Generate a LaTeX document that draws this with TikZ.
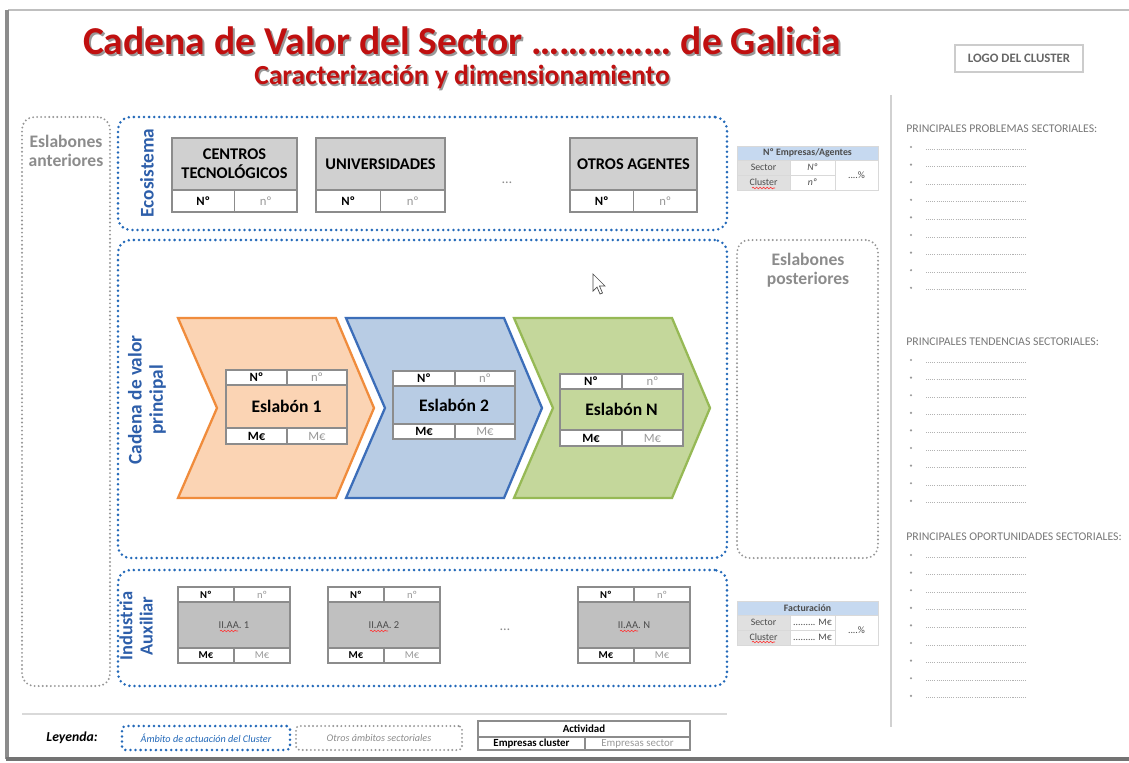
\documentclass[tikz,border=0pt]{standalone}
\usepackage{fontspec}
\setmainfont{Carlito}
\usetikzlibrary{fit,decorations.pathmorphing}
\definecolor{titlered}{RGB}{192,16,16}
\definecolor{cblue}{RGB}{35,105,185}
\definecolor{lblue}{RGB}{46,95,170}
\definecolor{dotgray}{RGB}{150,150,150}
\definecolor{hdrgray}{RGB}{208,208,208}
\definecolor{iagray}{RGB}{192,192,192}
\definecolor{bordgray}{RGB}{140,140,140}
\definecolor{hdrblue}{RGB}{198,217,240}
\definecolor{cellgray}{RGB}{224,224,224}
\definecolor{orangeS}{RGB}{240,140,60}
\definecolor{orangeF}{RGB}{251,212,180}
\definecolor{blueS}{RGB}{60,110,185}
\definecolor{blueF}{RGB}{184,204,228}
\definecolor{greenS}{RGB}{150,185,85}
\definecolor{greenF}{RGB}{196,215,155}
\definecolor{txtgray}{RGB}{120,120,120}
\newcommand\fsz[2]{\fontsize{#1}{#2}\selectfont}
% box: name, fit points, box style, text style, text
\newcommand\bx[5]{\node[fit={#2}, #3] (#1) {}; \node[inner sep=0pt, #4] (#1t) at (#1.center) {#5};}
\begin{document}
\begin{tikzpicture}[x=0.02cm,y=-0.02cm,
  bluedot/.style={draw=cblue, line width=1.6pt, dash pattern=on 0pt off 2.9pt, line cap=round, rounded corners=7pt, inner sep=0pt},
  graydot/.style={draw=dotgray, line width=1.2pt, dash pattern=on 0pt off 2.3pt, line cap=round, rounded corners=7pt, inner sep=0pt},
  cellbox/.style={draw=bordgray, line width=0.6pt, inner sep=0pt, fill=white},
  tcell/.style={draw=black!15, line width=0.5pt, inner sep=0pt},
  ttxt/.style={font=\fsz{5.6}{6.5}, text=black!70},
  bluelabel/.style={text=lblue, font=\bfseries\fsz{11}{12}, align=center},
  graylabel/.style={text=black!45, font=\bfseries\fsz{10}{11}, align=center},
  chev/.style={line width=1.3pt, line join=miter},
  heading/.style={anchor=west, text=txtgray, font=\fsz{6.7}{8}, inner sep=0pt},
  squig/.style={draw=red!80, line width=0.35pt, decorate, decoration={snake, amplitude=0.45pt, segment length=2pt}},
  sep/.style={draw=black!18, line width=1.2pt}
]
\useasboundingbox (0,0) rectangle (1129,762);
\fill[white] (0,0) rectangle (1129,762);
% page frame
\draw[black!25, line width=0.6pt] (8,10) -- (1129,10);
\draw[black!45, line width=1.8pt] (7,10) -- (7,759);
\draw[black!55, line width=2pt] (6,759) -- (1129,759);
\draw[sep] (891,95) -- (891,727);
\draw[black!15, line width=0.8pt] (22,714) -- (727,714);

% title
\node[text=black!40, font=\bfseries\fsz{22.5}{27}] (titleshadow) at (464,42.5) {Cadena de Valor del Sector …………… de Galicia};
\node[text=titlered, font=\bfseries\fsz{22.5}{27}] (title) at (462,40.5) {Cadena de Valor del Sector …………… de Galicia};
\node[text=black!40, font=\bfseries\fsz{15.7}{18}] (subshadow) at (463.5,78.5) {Caracterización y dimensionamiento};
\node[text=titlered, font=\bfseries\fsz{15.7}{18}] (subtitle) at (462,77) {Caracterización y dimensionamiento};

% logo
\bx{logo}{(955,45)(1083,72)}{draw=black!20, line width=0.6pt, inner sep=0pt}{text=black!60, font=\bfseries\fsz{7.3}{9}}{LOGO DEL CLUSTER}

% eslabones anteriores
\node[fit={(22,117)(110,686)}, graydot] (ant) {};
\node[graylabel] (anttxt) at (66,151) {Eslabones\\anteriores};

% ecosistema
\node[fit={(118,117)(727,230)}, bluedot] (eco) {};
\node[bluelabel, rotate=90] (ecotxt) at (147,173) {Ecosistema};
\foreach \nm/\xa/\xb/\lbl in {ct/172/297/{CENTROS\\TECNOLÓGICOS}, un/316/445/{UNIVERSIDADES}, ot/570/697/{OTROS AGENTES}}{
  \pgfmathsetmacro\xm{(\xa+\xb)/2}
  \bx{\nm h}{(\xa,138)(\xb,190)}{cellbox, fill=hdrgray}{font=\bfseries\fsz{9.3}{11}, align=center}{\lbl}
  \bx{\nm a}{(\xa,190)(\xm,212)}{cellbox}{font=\bfseries\fsz{7.2}{8}}{Nº}
  \bx{\nm b}{(\xm,190)(\xb,212)}{cellbox}{font=\fsz{7.2}{8}, text=black!40}{nº}
}
\node[text=black!45, font=\fsz{8}{9}] (ecodots) at (507,183) {…};

% table empresas/agentes
\bx{t1h}{(737,146)(878,160)}{tcell, fill=hdrblue}{ttxt, font=\bfseries\fsz{5.6}{6.5}}{Nº Empresas/Agentes}
\bx{t1s}{(737,160)(790,175)}{tcell, fill=cellgray}{ttxt}{Sector}
\bx{t1n}{(790,160)(835,175)}{tcell}{ttxt, font=\itshape\fsz{5.6}{6.5}}{Nº}
\bx{t1p}{(835,160)(878,190)}{tcell}{ttxt}{....\%}
\bx{t1c}{(737,175)(790,190)}{tcell, fill=cellgray}{ttxt}{Cluster}
\bx{t1m}{(790,175)(835,190)}{tcell}{ttxt, font=\itshape\fsz{5.6}{6.5}}{nº}
\draw[squig] (752,188) -- (775,188);

% cadena de valor principal
\node[fit={(118,240)(727,558)}, bluedot] (cad) {};
\node[bluelabel, rotate=90] (cadtxt) at (147,400) {Cadena de valor\\principal};
\node[fit={(737,240)(878,558)}, graydot] (post) {};
\node[graylabel] (posttxt) at (808,270) {Eslabones\\posteriores};

% chevrons
\filldraw[chev, draw=orangeS, fill=orangeF] (178,318) -- (336,318) -- (374,408) -- (336,498) -- (178,498) -- (217,408) -- cycle;
\filldraw[chev, draw=blueS, fill=blueF] (346,318) -- (504,318) -- (542,408) -- (504,498) -- (346,498) -- (385,408) -- cycle;
\filldraw[chev, draw=greenS, fill=greenF] (514,318) -- (672,318) -- (710,408) -- (672,498) -- (514,498) -- (553,408) -- cycle;

\foreach \nm/\xa/\xm/\xb/\ya/\yb/\yc/\yd/\fc/\lbl in {e1/226/287/347/370/385/428/444/orangeF/1, e2/393/455/515/371/386/424/439/blueF/2, eN/560/622/683/374/389/430/446/greenF/N}{
  \bx{\nm a}{(\xa,\ya)(\xm,\yb)}{cellbox}{font=\bfseries\fsz{7.2}{8}}{Nº}
  \bx{\nm b}{(\xm,\ya)(\xb,\yb)}{cellbox}{font=\fsz{7.2}{8}, text=black!40}{nº}
  \bx{\nm m}{(\xa,\yb)(\xb,\yc)}{cellbox, fill=\fc}{font=\bfseries\fsz{10}{11}}{Eslabón \lbl}
  \bx{\nm c}{(\xa,\yc)(\xm,\yd)}{cellbox}{font=\bfseries\fsz{7.2}{8}}{M€}
  \bx{\nm d}{(\xm,\yc)(\xb,\yd)}{cellbox}{font=\fsz{7.2}{8}, text=black!40}{M€}
}

% cursor
\filldraw[draw=black!70, fill=white, line width=0.4pt] (593,274) -- (593,291) -- (597,287) -- (600,294) -- (602.5,293) -- (599.5,286) -- (605,286) -- cycle;

% industria auxiliar
\node[fit={(118,570)(727,686)}, bluedot] (ind) {};
\node[bluelabel, rotate=90, font=\bfseries\fsz{10.5}{11.5}] (indtxt) at (136,626) {Industria\\Auxiliar};
\foreach \nm/\xa/\xm/\xb/\lbl in {a1/178/234/290/1, a2/328/384/440/2, aN/578/634/690/N}{
  \bx{\nm a}{(\xa,587)(\xm,602)}{cellbox}{font=\bfseries\fsz{6}{7}}{Nº}
  \bx{\nm b}{(\xm,587)(\xb,602)}{cellbox}{font=\fsz{6}{7}, text=black!40}{nº}
  \bx{\nm m}{(\xa,602)(\xb,648)}{cellbox, fill=iagray}{font=\fsz{6}{7}, text=black!70}{II.AA. \lbl}
  \bx{\nm c}{(\xa,648)(\xm,663)}{cellbox}{font=\bfseries\fsz{6}{7}}{M€}
  \bx{\nm d}{(\xm,648)(\xb,663)}{cellbox}{font=\fsz{6}{7}, text=black!40}{M€}
  \draw[squig] (\xm-14,631) -- (\xm+4,631);
}
\node[text=black!45, font=\fsz{8}{9}] (inddots) at (505,630) {…};

% table facturacion
\bx{t2h}{(737,601)(878,615)}{tcell, fill=hdrblue}{ttxt, font=\bfseries\fsz{5.6}{6.5}}{Facturación}
\bx{t2s}{(737,615)(790,630)}{tcell, fill=cellgray}{ttxt}{Sector}
\bx{t2v}{(790,615)(835,630)}{tcell}{ttxt}{......... M€}
\bx{t2p}{(835,615)(878,645)}{tcell}{ttxt}{....\%}
\bx{t2c}{(737,630)(790,645)}{tcell, fill=cellgray}{ttxt}{Cluster}
\bx{t2w}{(790,630)(835,645)}{tcell}{ttxt}{......... M€}
\draw[squig] (752,642) -- (775,642);

% right panel
\node[heading] (h1) at (906,129) {PRINCIPALES PROBLEMAS SECTORIALES:};
\node[heading] (h2) at (906,342) {PRINCIPALES TENDENCIAS SECTORIALES:};
\node[heading] (h3) at (906,537) {PRINCIPALES OPORTUNIDADES SECTORIALES:};
\foreach \ystart in {147,360,555}{
  \foreach \i in {0,...,8}{
    \pgfmathsetmacro\yy{\ystart+\i*17.6}
    \fill[black!40] (911,\yy) circle (1.2);
    \draw[black!30, line width=0.5pt, dash pattern=on 0.6pt off 0.6pt] (926,\yy+2) -- (1027,\yy+2);
  }
}

% legend
\node[font=\bfseries\itshape\fsz{7.8}{9}] (ley) at (72,738) {Leyenda:};
\bx{leg1}{(122,726)(290,750)}{bluedot, rounded corners=2pt}{font=\itshape\fsz{5.8}{7}, text=cblue}{Ámbito de actuación del Cluster}
\bx{leg2}{(296,726)(462,750)}{graydot, rounded corners=2pt}{font=\itshape\fsz{5.8}{7}, text=black!45}{Otros ámbitos sectoriales}
\bx{legh}{(478,721)(690,737)}{cellbox}{font=\bfseries\fsz{6.2}{7}}{Actividad}
\bx{legc}{(478,737)(585,750)}{cellbox}{font=\bfseries\fsz{6.2}{7}}{Empresas cluster}
\bx{legs}{(585,737)(690,750)}{cellbox}{font=\fsz{6.2}{7}, text=black!40}{Empresas sector}
\end{tikzpicture}
\end{document}
